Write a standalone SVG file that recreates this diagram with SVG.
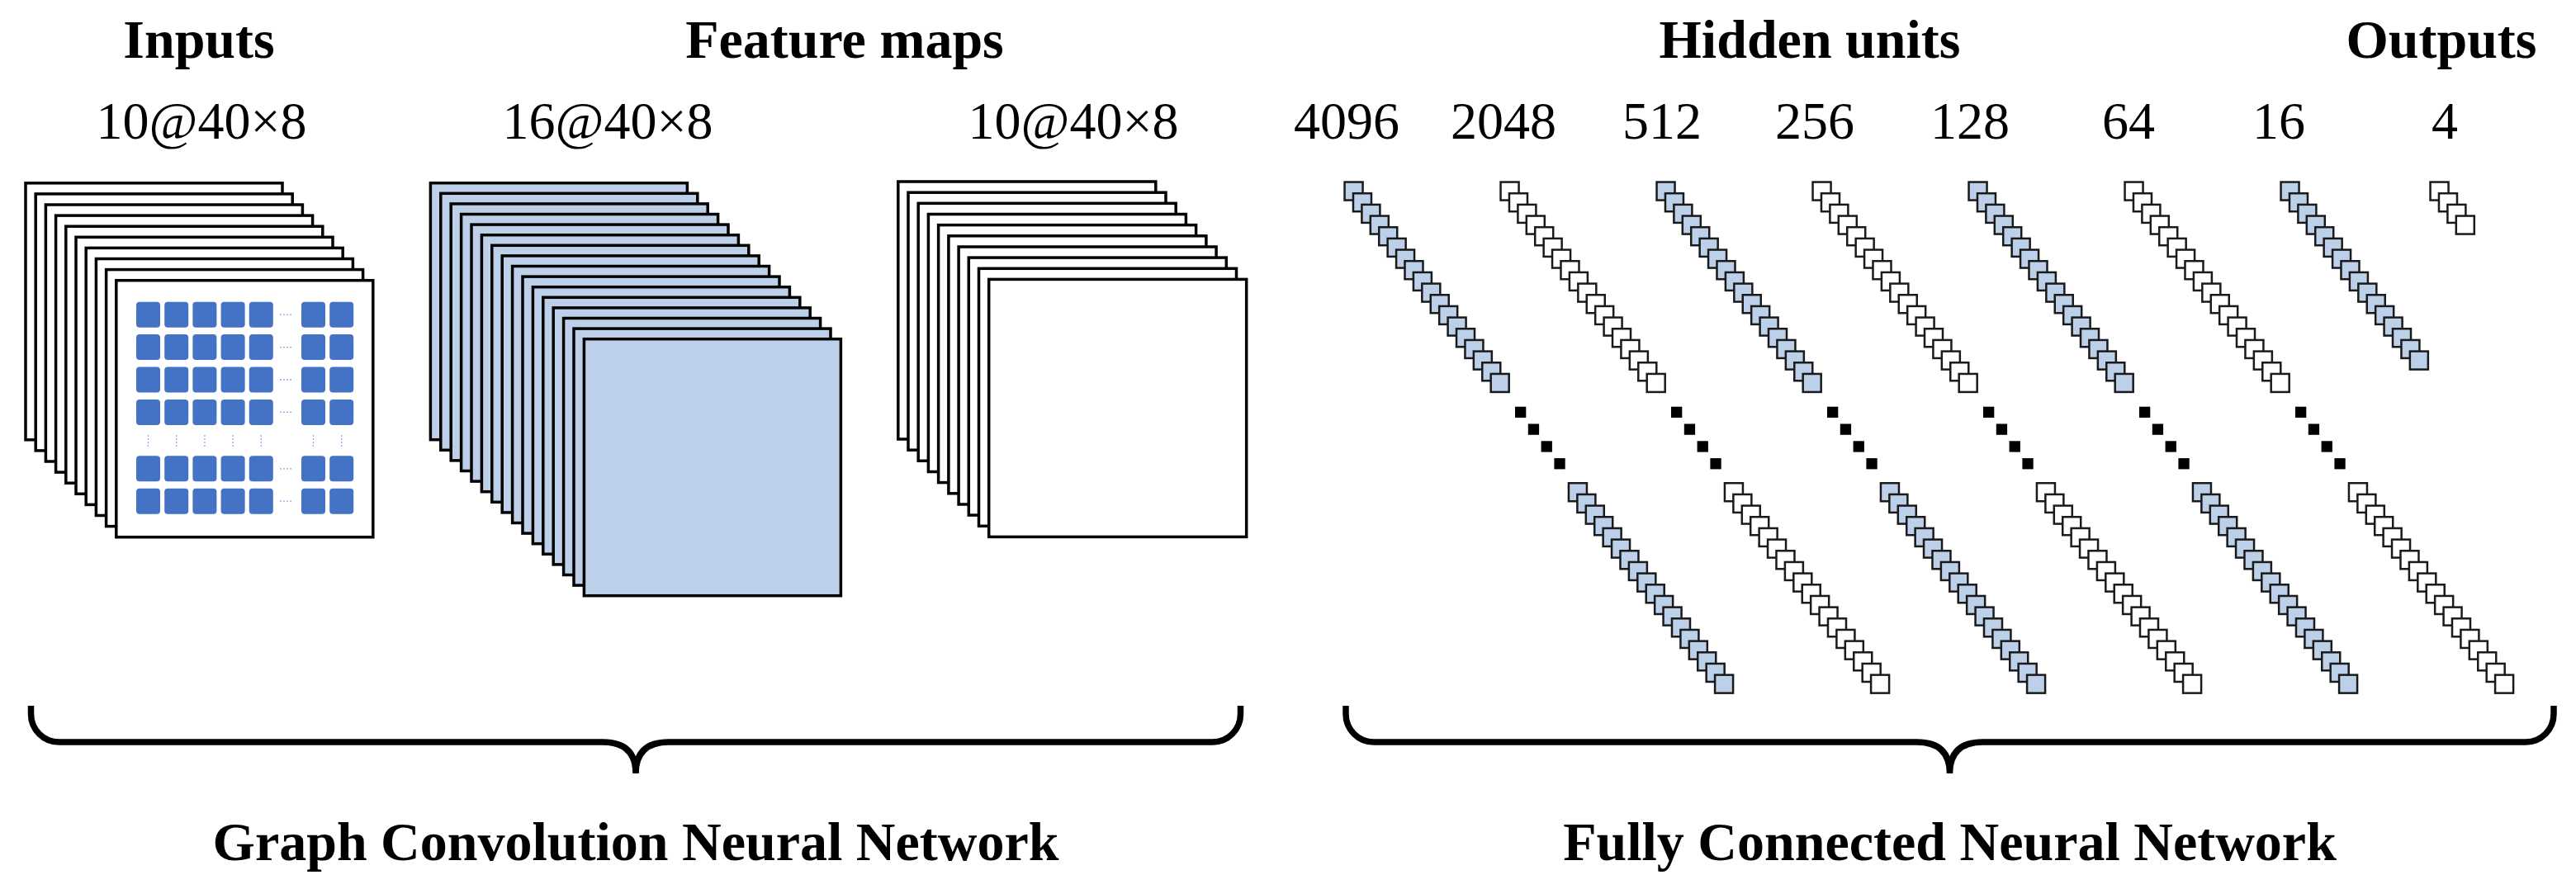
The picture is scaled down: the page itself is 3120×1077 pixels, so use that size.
<svg xmlns="http://www.w3.org/2000/svg" xmlns:xlink="http://www.w3.org/1999/xlink" width="3120" height="1077" viewBox="0 0 3120 1077">
<style>
.stk{stroke:#000;stroke-width:3.5}
.w{fill:#fff}
.bl{fill:#BDD0E9}
.sq{stroke:#1a1a1a;stroke-width:2.5}
.cell{fill:#4472C4}
.dash{stroke:#8EA9DB;stroke-width:1.3;stroke-dasharray:2 2;fill:none}
.t{font-family:"Liberation Serif","Times New Roman",serif;fill:#000;text-anchor:middle}
.b{font-weight:bold;font-size:66px}
.n{font-size:64px}
.brace{fill:none;stroke:#000;stroke-width:7.5}
</style>
<defs>
<g id="c4">
<rect class="sq" x="1.25" y="1.25" width="22" height="22"/>
<rect class="sq" x="11.67" y="14.92" width="22" height="22"/>
<rect class="sq" x="22.09" y="28.59" width="22" height="22"/>
<rect class="sq" x="32.51" y="42.26" width="22" height="22"/>
</g>
<g id="c16">
<use href="#c4"/>
<rect class="sq" x="42.93" y="55.93" width="22" height="22"/>
<rect class="sq" x="53.35" y="69.6" width="22" height="22"/>
<rect class="sq" x="63.77" y="83.27" width="22" height="22"/>
<rect class="sq" x="74.19" y="96.94" width="22" height="22"/>
<rect class="sq" x="84.61" y="110.61" width="22" height="22"/>
<rect class="sq" x="95.03" y="124.28" width="22" height="22"/>
<rect class="sq" x="105.45" y="137.95" width="22" height="22"/>
<rect class="sq" x="115.87" y="151.62" width="22" height="22"/>
<rect class="sq" x="126.29" y="165.29" width="22" height="22"/>
<rect class="sq" x="136.71" y="178.96" width="22" height="22"/>
<rect class="sq" x="147.13" y="192.63" width="22" height="22"/>
<rect class="sq" x="157.55" y="206.3" width="22" height="22"/>
</g>
<g id="c18">
<use href="#c16"/>
<rect class="sq" x="167.97" y="219.97" width="22" height="22"/>
<rect class="sq" x="178.39" y="233.64" width="22" height="22"/>
</g>
<g id="dots" fill="#000">
<rect x="207.7" y="273.4" width="13.3" height="13.3"/>
<rect x="223.5" y="294.2" width="13.3" height="13.3"/>
<rect x="239.3" y="315" width="13.3" height="13.3"/>
<rect x="255.1" y="335.8" width="13.3" height="13.3"/>
</g>
<g id="col">
<use href="#c18"/>
<use href="#dots"/>
<use href="#c18" x="271.4" y="364.7"/>
</g>
<g id="cellrow">
<rect class="cell" x="165" y="0" width="29" height="31" rx="4"/>
<rect class="cell" x="199.2" y="0" width="29" height="31" rx="4"/>
<rect class="cell" x="233.4" y="0" width="29" height="31" rx="4"/>
<rect class="cell" x="267.6" y="0" width="29" height="31" rx="4"/>
<rect class="cell" x="301.8" y="0" width="29" height="31" rx="4"/>
<rect class="cell" x="365" y="0" width="29" height="31" rx="4"/>
<rect class="cell" x="399.2" y="0" width="29" height="31" rx="4"/>
<line class="dash" x1="339" y1="15.5" x2="355" y2="15.5"/>
</g>
</defs>

<g id="inputs">
<rect class="stk w" x="31" y="221.8" width="311" height="311"/>
<rect class="stk w" x="43.2" y="234.9" width="311" height="311"/>
<rect class="stk w" x="55.4" y="248" width="311" height="311"/>
<rect class="stk w" x="67.6" y="261.1" width="311" height="311"/>
<rect class="stk w" x="79.8" y="274.2" width="311" height="311"/>
<rect class="stk w" x="92" y="287.3" width="311" height="311"/>
<rect class="stk w" x="104.2" y="300.4" width="311" height="311"/>
<rect class="stk w" x="116.4" y="313.5" width="311" height="311"/>
<rect class="stk w" x="128.6" y="326.6" width="311" height="311"/>
<rect class="stk w" x="140.8" y="339.7" width="311" height="311"/>
<use href="#cellrow" y="365.7"/>
<use href="#cellrow" y="405.1"/>
<use href="#cellrow" y="444.5"/>
<use href="#cellrow" y="483.9"/>
<use href="#cellrow" y="552.3"/>
<use href="#cellrow" y="591.7"/>
<line class="dash" x1="179.5" y1="527" x2="179.5" y2="542"/>
<line class="dash" x1="213.7" y1="527" x2="213.7" y2="542"/>
<line class="dash" x1="247.9" y1="527" x2="247.9" y2="542"/>
<line class="dash" x1="282.1" y1="527" x2="282.1" y2="542"/>
<line class="dash" x1="316.3" y1="527" x2="316.3" y2="542"/>
<line class="dash" x1="379.5" y1="527" x2="379.5" y2="542"/>
<line class="dash" x1="413.7" y1="527" x2="413.7" y2="542"/>
</g>

<g id="feature-maps-16">
<rect class="stk bl" x="521.4" y="221.7" width="311" height="311"/>
<rect class="stk bl" x="533.8" y="234.3" width="311" height="311"/>
<rect class="stk bl" x="546.2" y="246.9" width="311" height="311"/>
<rect class="stk bl" x="558.6" y="259.5" width="311" height="311"/>
<rect class="stk bl" x="571" y="272.1" width="311" height="311"/>
<rect class="stk bl" x="583.4" y="284.7" width="311" height="311"/>
<rect class="stk bl" x="595.8" y="297.3" width="311" height="311"/>
<rect class="stk bl" x="608.2" y="309.9" width="311" height="311"/>
<rect class="stk bl" x="620.6" y="322.5" width="311" height="311"/>
<rect class="stk bl" x="633" y="335.1" width="311" height="311"/>
<rect class="stk bl" x="645.4" y="347.7" width="311" height="311"/>
<rect class="stk bl" x="657.8" y="360.3" width="311" height="311"/>
<rect class="stk bl" x="670.2" y="372.9" width="311" height="311"/>
<rect class="stk bl" x="682.6" y="385.5" width="311" height="311"/>
<rect class="stk bl" x="695" y="398.1" width="311" height="311"/>
<rect class="stk bl" x="707.4" y="410.7" width="311" height="311"/>
</g>

<g id="feature-maps-10">
<rect class="stk w" x="1087.8" y="220" width="312" height="312"/>
<rect class="stk w" x="1100" y="233.2" width="312" height="312"/>
<rect class="stk w" x="1112.2" y="246.3" width="312" height="312"/>
<rect class="stk w" x="1124.4" y="259.5" width="312" height="312"/>
<rect class="stk w" x="1136.6" y="272.6" width="312" height="312"/>
<rect class="stk w" x="1148.9" y="285.8" width="312" height="312"/>
<rect class="stk w" x="1161.1" y="299" width="312" height="312"/>
<rect class="stk w" x="1173.3" y="312.1" width="312" height="312"/>
<rect class="stk w" x="1185.5" y="325.3" width="312" height="312"/>
<rect class="stk w" x="1197.7" y="338.4" width="312" height="312"/>
</g>

<g id="fc-4096"><use href="#col" x="1627.3" y="219.3" fill="#BDD0E9"/></g>
<g id="fc-2048"><use href="#col" x="1816.3" y="219.3" fill="#fff"/></g>
<g id="fc-512"><use href="#col" x="2005.3" y="219.3" fill="#BDD0E9"/></g>
<g id="fc-256"><use href="#col" x="2194.3" y="219.3" fill="#fff"/></g>
<g id="fc-128"><use href="#col" x="2383.3" y="219.3" fill="#BDD0E9"/></g>
<g id="fc-64"><use href="#col" x="2572.3" y="219.3" fill="#fff"/></g>
<g id="fc-16"><use href="#c16" x="2761.3" y="219.3" fill="#BDD0E9"/></g>
<g id="out-4"><use href="#c4" x="2942.3" y="219.3" fill="#fff"/></g>

<g id="connectors">
<path class="brace" d="M37.5,855 L37.5,865 A34,34 0 0 0 71.5,899 L730,899 Q770,899 770,937 Q770,899 810,899 L1468.5,899 A34,34 0 0 0 1502.5,865 L1502.5,855"/>
<path class="brace" d="M1630,855 L1630,865 A34,34 0 0 0 1664,899 L2321.5,899 Q2361.5,899 2361.5,937 Q2361.5,899 2401.5,899 L3059,899 A34,34 0 0 0 3093,865 L3093,855"/>
</g>

<g id="labels">
<text class="t b" x="241" y="70">Inputs</text>
<text class="t b" x="1023" y="70">Feature maps</text>
<text class="t b" x="2192" y="70">Hidden units</text>
<text class="t b" x="2957" y="70">Outputs</text>
<text class="t n" x="244" y="168">10@40×8</text>
<text class="t n" x="736" y="168">16@40×8</text>
<text class="t n" x="1300" y="168">10@40×8</text>
<text class="t n" x="1631" y="168">4096</text>
<text class="t n" x="1821" y="168">2048</text>
<text class="t n" x="2013" y="168">512</text>
<text class="t n" x="2198" y="168">256</text>
<text class="t n" x="2386" y="168">128</text>
<text class="t n" x="2578" y="168">64</text>
<text class="t n" x="2760" y="168">16</text>
<text class="t n" x="2961" y="168">4</text>
<text class="t b" x="770" y="1042">Graph Convolution Neural Network</text>
<text class="t b" x="2361.5" y="1042">Fully Connected Neural Network</text>
</g>
</svg>
